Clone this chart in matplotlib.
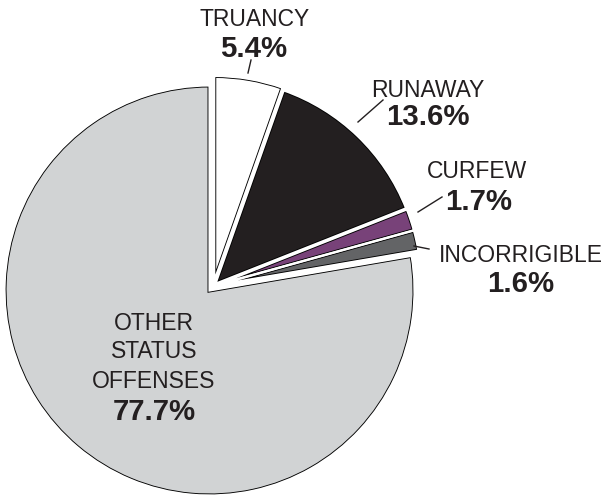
import matplotlib
matplotlib.use("Agg")
import matplotlib.pyplot as plt
from matplotlib.patches import Wedge

# status offense cases by type (percent)
categories = ["TRUANCY", "RUNAWAY", "CURFEW", "INCORRIGIBLE", "OTHER\nSTATUS\nOFFENSES"]
percents = [5.4, 13.6, 1.7, 1.6, 77.7]
colors = ["#ffffff", "#231f20", "#784279", "#636466", "#d1d3d4"]

W, H = 613, 495
plt.rcParams["font.family"] = ["Liberation Sans", "DejaVu Sans"]
ink = "#231f20"

fig = plt.figure(figsize=(W / 100, H / 100), dpi=100)
ax = fig.add_axes([0, 0, 1, 1])


def py(y):
    # pixel row (from top) -> data y
    return H - y


wedges, _ = ax.pie(percents, colors=colors, startangle=90, counterclock=False,
                   center=(213.4, py(285.9)), radius=205,
                   explode=[5, 3, 3, 3, 6],
                   wedgeprops=dict(edgecolor="none"), frame=True)

# black outline set just inside each slice, white gap around it
px = 0.72  # points per pixel at 100 dpi
for w in wedges:
    ring = Wedge(w.center, w.r, w.theta1, w.theta2, facecolor="none",
                 edgecolor="black", linewidth=2 * 2.0 * px)
    ax.add_patch(ring)
    ring.set_clip_path(w)
for w in wedges:
    ax.add_patch(Wedge(w.center, w.r, w.theta1, w.theta2, facecolor="none",
                       edgecolor="white", linewidth=2 * 1.1 * px))

ax.set_xlim(0, W)
ax.set_ylim(0, H)
ax.set_aspect("equal")
ax.axis("off")

reg = 16.5
bold = 21.2

# outside labels: (name x, name baseline, pct x, pct baseline)
spots = [(255, 26, 254, 57),
         (428, 97, 428, 125),
         (477, 178, 479, 210),
         (521, 262, 521, 292)]
for (nx, ny, vx, vy), name, val in zip(spots, categories[:4], percents[:4]):
    ax.text(nx, py(ny), name, ha="center", va="baseline", fontsize=reg, color=ink)
    ax.text(vx, py(vy), f"{val}%", ha="center", va="baseline", fontsize=bold,
            fontweight="bold", color=ink)

# leader lines
leaders = [((251, 60), (248, 73)),
           ((358, 122), (383, 100)),
           ((418, 212), (442, 197)),
           ((414, 246), (429, 249))]
for (x0, y0), (x1, y1) in leaders:
    ax.plot([x0, x1], [py(y0), py(y1)], color=ink, lw=1.0)

# label inside the big slice
for line, yb in zip(categories[4].split("\n"), [330, 358, 388]):
    ax.text(154, py(yb), line, ha="center", va="baseline", fontsize=reg, color=ink)
ax.text(154, py(420), f"{percents[4]}%", ha="center", va="baseline",
        fontsize=bold, fontweight="bold", color=ink)

fig.savefig("out.png", dpi=100)
